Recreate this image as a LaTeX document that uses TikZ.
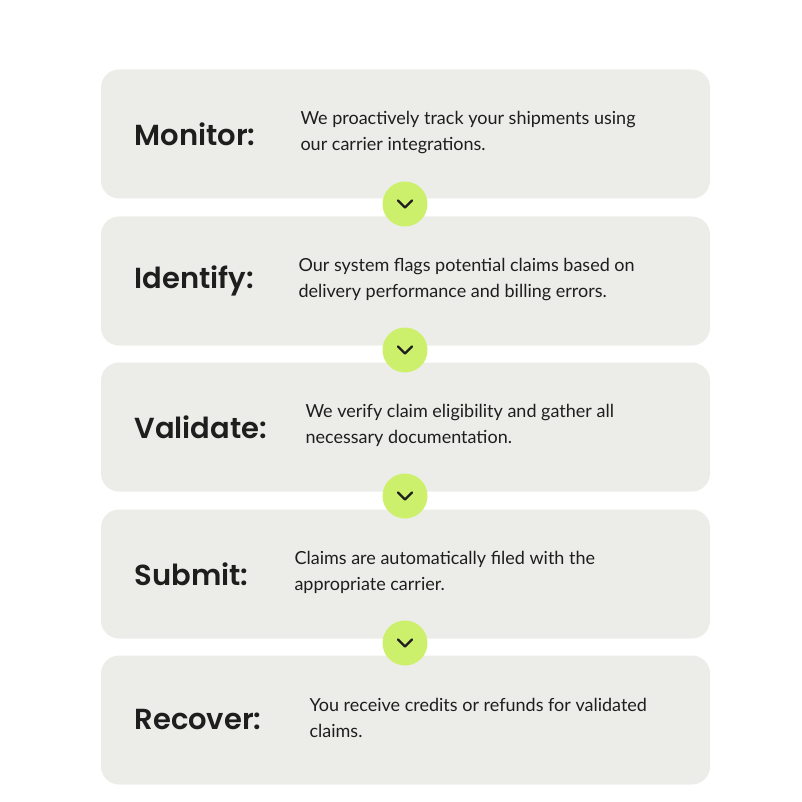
\documentclass[tikz,border=0pt]{standalone}
\usepackage{fontspec}
\setmainfont{Lato}
\newfontfamily\headfont{Poppins}[UprightFont=* SemiBold]
\usetikzlibrary{positioning}
\definecolor{stepgrey}{HTML}{ECEDE8}
\definecolor{limegreen}{HTML}{CDF06C}
\definecolor{inkdark}{HTML}{1E1E1E}
\tikzset{
  stepbox/.style={fill=stepgrey, rounded corners=18pt, minimum width=609pt, minimum height=129pt, inner sep=0pt},
  steptitle/.style={anchor=west, font=\headfont\fontsize{29}{34}\selectfont, text=inkdark},
  steptext/.style={anchor=west, align=left, font=\fontsize{18}{26}\selectfont, text=inkdark},
  chevron/.style={circle, fill=limegreen, minimum size=45pt, inner sep=0pt}
}
\begin{document}
\begin{tikzpicture}[x=1pt,y=-1pt]
\useasboundingbox (0,0) rectangle (801,802);
\node[stepbox] (b1) at (405.5,134) {};
\node[stepbox] (b2) at (405.5,281) {};
\node[stepbox] (b3) at (405.5,427) {};
\node[stepbox] (b4) at (405.5,574) {};
\node[stepbox] (b5) at (405.5,720) {};
\node[steptitle] (t1) at (131,134) {Monitor:};
\node[steptitle] (t2) at (131,281) {Identify:};
\node[steptitle] (t3) at (131,427) {Validate:};
\node[steptitle] (t4) at (131,574) {Submit:};
\node[steptitle] (t5) at (131,720) {Recover:};
\node[steptext] (d1) at (297,133) {We proactively track your shipments using\\our carrier integrations.};
\node[steptext] (d2) at (295,280) {Our system flags potential claims based on\\delivery performance and billing errors.};
\node[steptext] (d3) at (302,425) {We verify claim eligibility and gather all\\necessary documentation.};
\node[steptext] (d4) at (291,572) {Claims are automatically filed with the\\appropriate carrier.};
\node[steptext] (d5) at (306,718) {You receive credits or refunds for validated\\claims.};
\foreach \i/\y in {1/204,2/350,3/496,4/643}{
  \node[chevron] (c\i) at (405,\y) {};
  \draw[inkdark, line width=2.2pt, line cap=round, line join=round]
    ([xshift=-7pt,yshift=3.5pt]c\i.center) -- ([yshift=-3.5pt]c\i.center) -- ([xshift=7pt,yshift=3.5pt]c\i.center);
}
\end{tikzpicture}
\end{document}
